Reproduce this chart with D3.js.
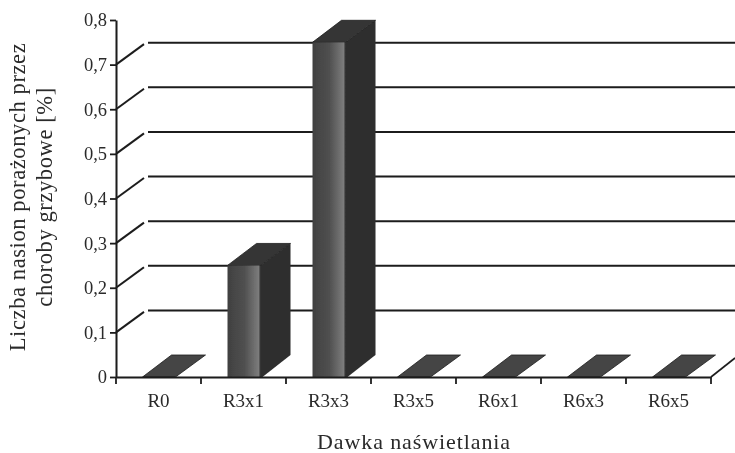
<!DOCTYPE html>
<html><head><meta charset="utf-8">
<script src="https://cdn.jsdelivr.net/npm/d3@7"></script>
<style>html,body{margin:0;background:#fff}svg{display:block}text{font-family:"Liberation Serif",serif;fill:#2a2a2a}</style>
</head><body><svg id="c" width="735" height="453"></svg>
<script>
const categories=["R0","R3x1","R3x3","R3x5","R6x1","R6x3","R6x5"];
const values=[0,0.25,0.75,0,0,0,0];
const yTicks=[0,0.1,0.2,0.3,0.4,0.5,0.6,0.7,0.8];
const yLabels=["0","0,1","0,2","0,3","0,4","0,5","0,6","0,7","0,8"];
const gridValues=[0.1,0.2,0.3,0.4,0.5,0.6,0.7];
const yTitle=["Liczba nasion porażonych przez","choroby grzybowe [%]"];
const xTitle="Dawka naświetlania";

const W=735,H=453,x0=116,x1=711,y0=377,yTop=20;
const dx=30,dy=22,barOff=26.5,barW=37,ink="#1c1c1c";
const x=d3.scaleBand().domain(categories).range([x0,x1]).padding(0);
const y=d3.scaleLinear().domain([0,0.8]).range([y0,yTop]);
const svg=d3.select("#c");
const defs=svg.append("defs");
const g=defs.append("linearGradient").attr("id","front");
[[0,"#404040"],[.5,"#505050"],[.92,"#7c7c7c"],[.96,"#363636"],[1,"#2e2e2e"]].forEach(([o,c])=>g.append("stop").attr("offset",o).attr("stop-color",c));
defs.append("filter").attr("id","soft").append("feGaussianBlur").attr("stdDeviation",0.5);
const root=svg.append("g").attr("filter","url(#soft)");

// walls
root.selectAll("line.grid").data(gridValues).join("line").attr("class","grid")
  .attr("x1",x0+dx+2).attr("x2",W).attr("y1",d=>y(d)-dy).attr("y2",d=>y(d)-dy)
  .attr("stroke",ink).attr("stroke-width",2);
root.selectAll("line.diag").data(gridValues).join("line").attr("class","diag")
  .attr("x1",x0).attr("y1",d=>y(d)).attr("x2",x0+dx-2).attr("y2",d=>y(d)-dy+1.5)
  .attr("stroke",ink).attr("stroke-width",2);
root.append("line").attr("x1",x1).attr("y1",y0).attr("x2",W).attr("y2",y0-dy+3)
  .attr("stroke",ink).attr("stroke-width",1.6);

// bars
const bars=root.selectAll("g.bar").data(categories.map((c,i)=>({c,v:values[i]}))).join("g").attr("class","bar");
const L=d=>x(d.c)+barOff;
bars.filter(d=>d.v>0).append("polygon").attr("fill","#2f2f2f").attr("points",d=>{
  const r=L(d)+barW,t=y(d.v);
  return [[r-4,t],[r+dx-4,t-dy],[r+dx-4,y0-dy],[r-2,y0],[r-4,y0]].join(" ");});
bars.append("polygon").attr("fill",d=>d.v>0?"#363636":"#454545").attr("stroke",ink).attr("stroke-width",.8).attr("points",d=>{
  const l=L(d),r=l+barW,t=y(d.v);
  return [[l,t],[l+dx-1,t-dy],[r+dx-4,t-dy],[r-4,t]].join(" ");});
bars.filter(d=>d.v>0).append("rect").attr("fill","url(#front)")
  .attr("x",L).attr("width",barW-3).attr("y",d=>y(d.v)).attr("height",d=>y0-y(d.v));

// axes
const yAxis=d3.axisLeft(y).tickValues(yTicks).tickFormat((d,i)=>yLabels[i]).tickSizeInner(6).tickSizeOuter(0).tickPadding(3);
const ya=root.append("g").attr("transform",`translate(${x0},0)`).call(yAxis);
const xAxis=d3.axisBottom(x).tickSize(0).tickPadding(17);
const xa=root.append("g").attr("transform",`translate(0,${y0})`).call(xAxis);
root.selectAll("line.xt").data([...categories.map(c=>x(c)),x1]).join("line").attr("class","xt")
  .attr("x1",d=>d).attr("x2",d=>d).attr("y1",y0).attr("y2",y0+7).attr("stroke",ink).attr("stroke-width",1.8);
[ya,xa].forEach(a=>{a.select(".domain").attr("stroke",ink).attr("stroke-width",2);
  a.selectAll(".tick line").attr("stroke",ink).attr("stroke-width",1.8);
  a.selectAll("text").attr("font-size",null).style("font-family",'"Liberation Serif",serif').style("fill","#2a2a2a").style("font-size","18.5px");});
xa.selectAll("text").style("font-size","19px");

// titles
root.append("text").attr("x",414).attr("y",449).attr("text-anchor","middle").attr("font-size",22).attr("letter-spacing",.9).text(xTitle);
root.append("g").attr("transform","translate(25,197) rotate(-90)").selectAll("text").data(yTitle).join("text")
  .attr("text-anchor","middle").attr("y",(d,i)=>i*27).attr("font-size",22.5).attr("letter-spacing",.6).text(d=>d);
</script></body></html>
